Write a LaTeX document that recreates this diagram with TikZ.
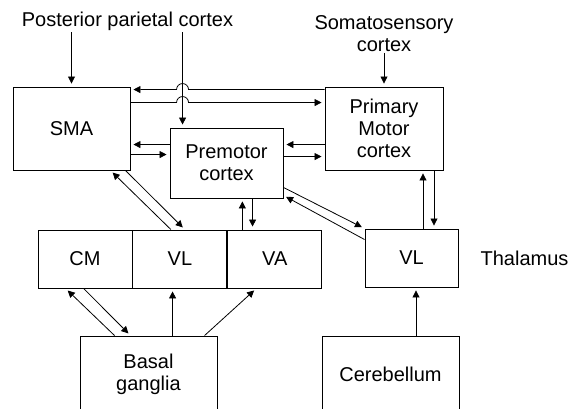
\documentclass[tikz,border=0pt]{standalone}
\usepackage{fontspec}
\setmainfont{Liberation Sans}
\usetikzlibrary{positioning,arrows.meta,calc}

\begin{document}
\begin{tikzpicture}[x=1pt, y=1pt,
  box/.style={draw, line width=0.9pt, align=center, inner sep=2pt,
              font=\fontsize{20}{22}\selectfont},
  lbl/.style={align=center, inner sep=1pt, font=\fontsize{20}{22}\selectfont},
  arr/.style={-{Triangle[length=7pt,width=7pt]}, line width=0.8pt, shorten >=3pt}
]
  \useasboundingbox (0,0) rectangle (568,409);
  \clip (0,0) rectangle (568,409);
  % cortex
  \node[box, minimum width=117pt, minimum height=83pt] (sma) at (71.5,280.5) {SMA};
  \node[box, minimum width=113pt, minimum height=70pt] (pmc) at (226.5,246) {Premotor\\cortex};
  \node[box, minimum width=118pt, minimum height=83pt] (mc) at (384,280.5) {Primary\\Motor\\cortex};
  \node[lbl, anchor=base] (ppc) at (127.5,382) {Posterior parietal cortex};
  \node[lbl, anchor=south] (ssc) at (384,356) {Somatosensory\\cortex};
  % thalamus
  \node[box, minimum width=94pt, minimum height=58pt] (cm) at (85,150) {CM};
  \node[box, minimum width=94pt, minimum height=58pt, right=0pt of cm] (vl) {VL};
  \node[box, minimum width=94pt, minimum height=58pt, right=0pt of vl] (va) {VA};
  \node[box, minimum width=93pt, minimum height=58pt] (vlr) at (411.5,151) {VL};
  \node[lbl, anchor=west, right=21pt of vlr] (thal) {Thalamus};
  % subcortical
  \node[box, minimum width=137pt, minimum height=76pt] (bg) at (148.5,35) {Basal\\ganglia};
  \node[box, minimum width=137pt, minimum height=76pt] (cb) at (390.5,35) {Cerebellum};

  % parietal and sensory input
  \coordinate (hx) at ([xshift=13pt]pmc.north west);
  \draw[arr] (sma.north |- ppc.south) -- (sma.north);
  \draw[arr] (hx |- ppc.south) -- (hx);
  \draw[arr] (ssc.south) -- (mc.north);
  % SMA <-> primary motor, hopping over the parietal line
  \draw[arr] ([yshift=-3pt]mc.north west) coordinate (t1)
    -- ($(hx |- t1)+(6,0)$) arc[start angle=0, end angle=180, radius=6]
    -- ([yshift=-3pt]sma.north east);
  \draw[arr] ([yshift=-16pt]sma.north east) coordinate (t2)
    -- ($(hx |- t2)-(6,0)$) arc[start angle=180, end angle=0, radius=6]
    -- ([yshift=-16pt]mc.north west);
  % premotor <-> SMA, primary motor
  \draw[arr] ([yshift=-17pt]pmc.north west) coordinate (a) -- (a -| sma.east);
  \draw[arr] ([yshift=-68pt]sma.north east) coordinate (b) -- (b -| pmc.west);
  \draw[arr] ([yshift=-58pt]mc.north west) coordinate (c) -- (c -| pmc.east);
  \draw[arr] ([yshift=-29pt]pmc.north east) coordinate (d) -- (d -| mc.west);
  % primary motor <-> VL
  \draw[arr] ([xshift=11.5pt]vlr.north) coordinate (e) -- (e |- mc.south);
  \draw[arr] ([xshift=50pt]mc.south) coordinate (f) -- (f |- vlr.north);
  % premotor <-> VL
  \draw[arr] ([yshift=11pt]pmc.south east) -- (vlr.north west);
  \draw[arr] ([yshift=-11pt]vlr.north west) -- ([yshift=3pt]pmc.south east);
  % SMA <-> VL
  \draw[arr] ([xshift=-5pt]sma.south east) -- ([xshift=5pt]vl.north);
  \draw[arr] ([xshift=-9pt]vl.north) -- ([xshift=-20pt]sma.south east);
  % premotor <-> VA
  \draw[arr] ([xshift=15pt]va.north west) coordinate (g) -- (g |- pmc.south);
  \draw[arr] ([xshift=83pt]pmc.south west) coordinate (h) -- (h |- va.north);
  % basal ganglia and cerebellum
  \draw[arr] ([xshift=46pt]cm.south west) -- ([xshift=51pt]bg.north west);
  \draw[arr] ([xshift=35pt]bg.north west) -- ([xshift=28pt]cm.south west);
  \draw[arr] ([xshift=93pt]bg.north west) coordinate (k) -- (k |- vl.south);
  \draw[arr] ([xshift=125pt]bg.north west) -- ([xshift=29pt]va.south west);
  \draw[arr] ([xshift=25.5pt]cb.north) coordinate (m) -- (m |- vlr.south);
\end{tikzpicture}
\end{document}
